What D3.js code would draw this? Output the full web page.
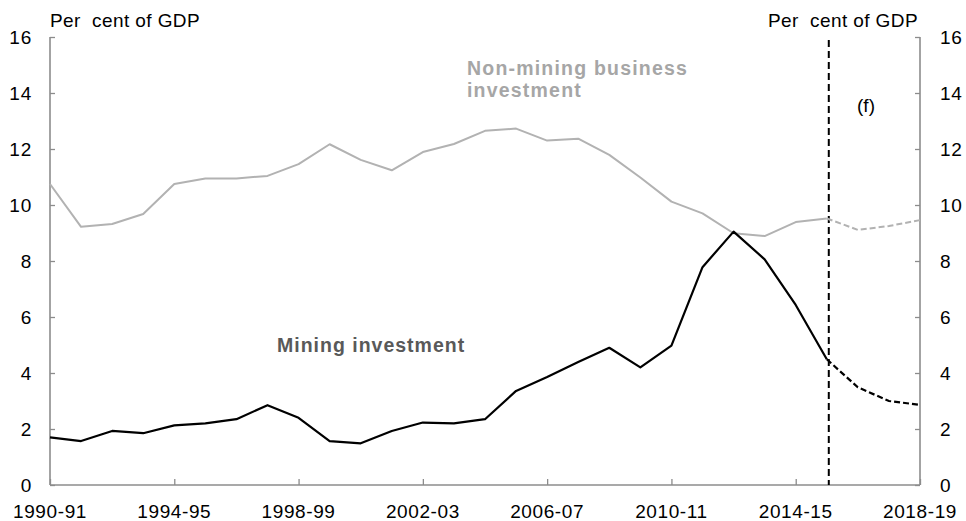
<!DOCTYPE html>
<html>
<head>
<meta charset="utf-8">
<script src="https://cdn.jsdelivr.net/npm/d3@7"></script>
<style>
  body { margin: 0; background: #fff; }
  svg { display: block; font-family: "Liberation Sans", Arial, sans-serif; }
</style>
</head>
<body>
<svg id="chart" width="966" height="521"></svg>
<script>
const categories = ["1990-91","1991-92","1992-93","1993-94","1994-95","1995-96","1996-97","1997-98","1998-99","1999-00",
  "2000-01","2001-02","2002-03","2003-04","2004-05","2005-06","2006-07","2007-08","2008-09","2009-10",
  "2010-11","2011-12","2012-13","2013-14","2014-15","2015-16","2016-17","2017-18","2018-19"];
const miningInvestment = [1.70,1.57,1.93,1.85,2.13,2.20,2.35,2.85,2.40,1.57,1.49,1.93,2.23,2.20,2.35,3.36,3.86,4.39,4.90,4.20,4.98,7.78,9.05,8.06,6.43,4.49,3.49,3.00,2.86];
const nonMiningInvestment = [10.75,9.22,9.32,9.68,10.75,10.95,10.95,11.04,11.46,12.17,11.61,11.24,11.89,12.18,12.65,12.73,12.30,12.37,11.79,10.98,10.12,9.70,8.99,8.89,9.39,9.52,9.11,9.25,9.46];
const xTickLabels = ["1990-91","1994-95","1998-99","2002-03","2006-07","2010-11","2014-15","2018-19"];
const yTicks = [0,2,4,6,8,10,12,14,16];
const forecastStart = "2015-16";

(function () {
const svg = d3.select("#chart");
const mL = 50, mR = 920, mT = 37, mB = 485;
const x = d3.scalePoint().domain(categories).range([mL, mR]);
const y = d3.scaleLinear().domain([0, 16]).range([mB, mT]);
const axisColor = "#8c8c8c";
const fs = 19;

// axes
const gL = svg.append("g").attr("transform", `translate(${mL},0)`)
  .call(d3.axisRight(y).tickValues(yTicks).tickSize(5).tickFormat(""));
const gR = svg.append("g").attr("transform", `translate(${mR},0)`)
  .call(d3.axisLeft(y).tickValues(yTicks).tickSize(5).tickFormat(""));
const gB = svg.append("g").attr("transform", `translate(0,${mB})`)
  .call(d3.axisTop(x).tickValues(xTickLabels).tickSize(6).tickFormat(""));
[gL, gR, gB].forEach(g => {
  g.select(".domain").attr("stroke", axisColor).attr("stroke-width", 1.6);
  g.selectAll(".tick line").attr("stroke", axisColor).attr("stroke-width", 1.3);
});
gB.select(".domain").attr("d", `M${mL},0H${mR}`);
gL.select(".domain").attr("d", `M0,${mT}V${mB}`);
gR.select(".domain").attr("d", `M0,${mT}V${mB}`);

// tick labels
svg.append("g").selectAll("text").data(yTicks).join("text")
  .attr("x", mL - 18).attr("y", d => y(d)).attr("dy", "0.36em")
  .attr("text-anchor", "end").attr("font-size", fs).attr("letter-spacing", 0.8)
  .attr("fill", "#000").text(d => d);
svg.append("g").selectAll("text").data(yTicks).join("text")
  .attr("x", mR + 20).attr("y", d => y(d)).attr("dy", "0.36em")
  .attr("text-anchor", "start").attr("font-size", fs).attr("letter-spacing", 0.8)
  .attr("fill", "#000").text(d => d);
svg.append("g").selectAll("text").data(xTickLabels).join("text")
  .attr("x", d => x(d)).attr("y", 518)
  .attr("text-anchor", "middle").attr("font-size", fs).attr("letter-spacing", 0.6)
  .attr("fill", "#000").text(d => d);

// unit labels
svg.append("text").attr("x", mL).attr("y", 27).attr("font-size", fs)
  .attr("letter-spacing", 0.4).attr("fill", "#000").attr("xml:space", "preserve").text("Per  cent of GDP");
svg.append("text").attr("x", mR - 2).attr("y", 27).attr("font-size", fs)
  .attr("text-anchor", "end").attr("letter-spacing", 0.4).attr("fill", "#000").attr("xml:space", "preserve").text("Per  cent of GDP");

// forecast divider
const fx = x(forecastStart);
svg.append("line").attr("x1", fx + 2).attr("x2", fx + 2).attr("y1", 40).attr("y2", mB)
  .attr("stroke", "#000").attr("stroke-width", 2).attr("stroke-dasharray", "7,4");
svg.append("text").attr("x", 866).attr("y", 112).attr("text-anchor", "middle")
  .attr("font-size", fs).attr("fill", "#000").text("(f)");

// lines
const fi = categories.indexOf(forecastStart);
const line = d3.line().x(d => x(d.c)).y(d => y(d.v));
function draw(values, color, width, dash) {
  const pts = values.map((v, i) => ({c: categories[i], v}));
  svg.append("path").datum(pts.slice(0, fi + 1)).attr("d", line)
    .attr("fill", "none").attr("stroke", color).attr("stroke-width", width)
    .attr("stroke-linejoin", "round");
  svg.append("path").datum(pts.slice(fi)).attr("d", line)
    .attr("fill", "none").attr("stroke", color).attr("stroke-width", width)
    .attr("stroke-dasharray", dash);
}
draw(nonMiningInvestment, "#b2b2b2", 2, "6,3");
draw(miningInvestment, "#000", 2.2, "6,3");

// series labels
const nm = svg.append("text").attr("font-size", 19.5).attr("font-weight", "bold")
  .attr("fill", "#a6a6a6").attr("letter-spacing", 1.2);
nm.append("tspan").attr("x", 467).attr("y", 75).text("Non-mining business");
nm.append("tspan").attr("x", 467).attr("y", 97).text("investment");
svg.append("text").attr("x", 277).attr("y", 352).attr("font-size", 19.5)
  .attr("font-weight", "bold").attr("fill", "#595959").attr("letter-spacing", 1.0)
  .text("Mining investment");
})();
</script>
</body>
</html>
